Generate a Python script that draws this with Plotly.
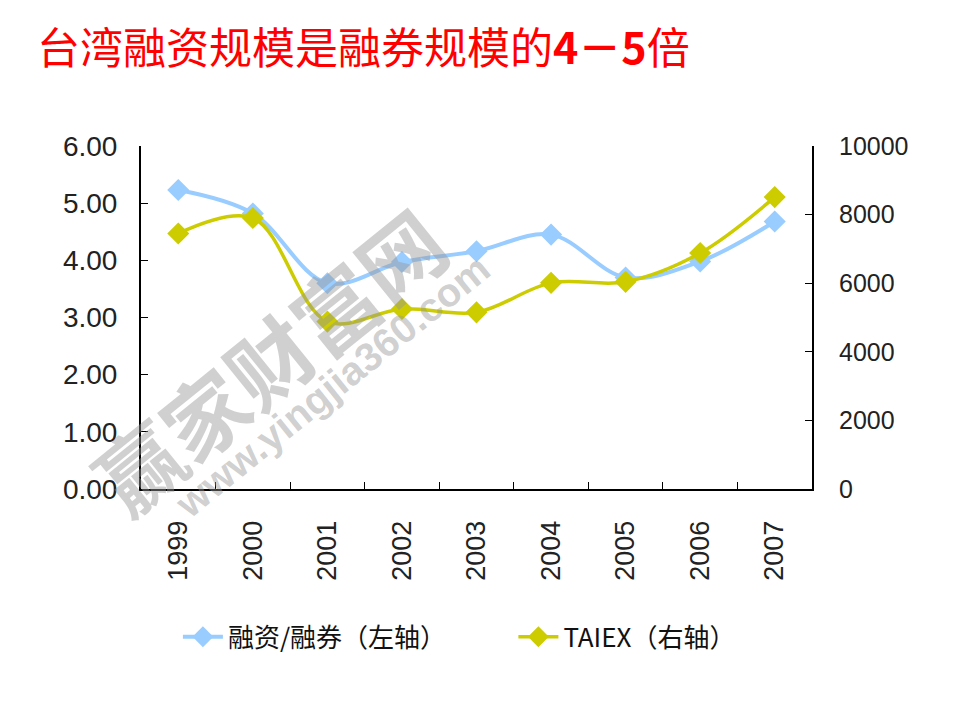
import plotly.graph_objects as go

years = ["1999", "2000", "2001", "2002", "2003", "2004", "2005", "2006", "2007"]
ratio = [5.23, 4.82, 3.60, 3.97, 4.16, 4.45, 3.70, 3.98, 4.68]
taiex = [7450, 7900, 4880, 5250, 5150, 6010, 6040, 6880, 8510]

title_text = "台湾融资规模是融券规模的<b>4－5</b>倍"
name_ratio = "融资/融券（左轴）"
name_taiex = "TAIEX（右轴）"
yticks_left = [0, 1, 2, 3, 4, 5, 6]
yticks_right = [0, 2000, 4000, 6000, 8000, 10000]

fig = go.Figure()
fig.add_trace(go.Scatter(
    x=years, y=ratio, name=name_ratio, mode="lines+markers", legend="legend",
    line=dict(color="#99CCFF", width=4, shape="spline", smoothing=1),
    marker=dict(symbol="diamond", size=17, color="#99CCFF"),
))
fig.add_trace(go.Scatter(
    x=years, y=taiex, name=name_taiex, mode="lines+markers", yaxis="y2", legend="legend2",
    line=dict(color="#CCCC00", width=3.5, shape="spline", smoothing=1),
    marker=dict(symbol="diamond", size=17, color="#CCCC00"),
))

sans = "Liberation Sans, Arial, sans-serif"
left_font = dict(family=sans, size=28, color="#222")
right_font = dict(family=sans, size=25, color="#222")
x_font = dict(family=sans, size=27, color="#222")
legend_font = dict(family="Noto Sans CJK SC, sans-serif", size=26, color="#111")

fig.update_layout(
    width=952, height=712,
    paper_bgcolor="white", plot_bgcolor="white",
    margin=dict(l=133, r=148, t=138, b=231, autoexpand=False),
    showlegend=True,
    legend=dict(x=0.055, xanchor="left", y=-0.431, yanchor="middle",
                font=legend_font, itemwidth=40, bgcolor="rgba(0,0,0,0)"),
    legend2=dict(x=0.555, xanchor="left", y=-0.431, yanchor="middle",
                 font=legend_font, itemwidth=40, bgcolor="rgba(0,0,0,0)"),
    xaxis=dict(
        type="category", range=[-0.5, 8.5], tickson="boundaries",
        ticks="inside", ticklen=7, tickcolor="black",
        showline=True, linecolor="black", linewidth=2,
        showgrid=False, zeroline=False, tickangle=-90,
        tickfont=x_font, ticklabelstandoff=19,
    ),
    yaxis=dict(
        range=[0, 6], tickvals=yticks_left, tickformat=".2f",
        ticks="inside", ticklen=7, tickcolor="black",
        showline=True, linecolor="black", linewidth=2,
        showgrid=False, zeroline=False, tickfont=left_font,
        ticklabelstandoff=16,
    ),
    yaxis2=dict(
        range=[0, 10000], tickvals=yticks_right, tickformat="d",
        overlaying="y", side="right",
        ticks="inside", ticklen=7, tickcolor="black",
        showline=True, linecolor="black", linewidth=2,
        showgrid=False, zeroline=False, tickfont=right_font,
        ticklabelstandoff=20,
    ),
    annotations=[
        dict(text=title_text, xref="paper", yref="paper", x=-0.158, y=1.294,
             xanchor="left", yanchor="middle", showarrow=False,
             font=dict(family="Noto Sans CJK SC, sans-serif", size=43, color="#FF0000")),
        dict(text="<b>赢家财富网</b>", xref="paper", yref="paper",
             x=0.189, y=0.379, xanchor="center", yanchor="middle",
             showarrow=False, textangle=-39,
             font=dict(family="Noto Sans CJK SC, sans-serif", size=84,
                       color="rgba(150,150,150,0.45)")),
        dict(text="<b>www.yingjia360.com</b>", xref="paper", yref="paper",
             x=0.285, y=0.3, xanchor="center", yanchor="middle",
             showarrow=False, textangle=-39,
             font=dict(family="Liberation Sans, Arial, sans-serif", size=40,
                       color="rgba(150,150,150,0.45)")),
    ],
)

fig.write_html("out.html")
